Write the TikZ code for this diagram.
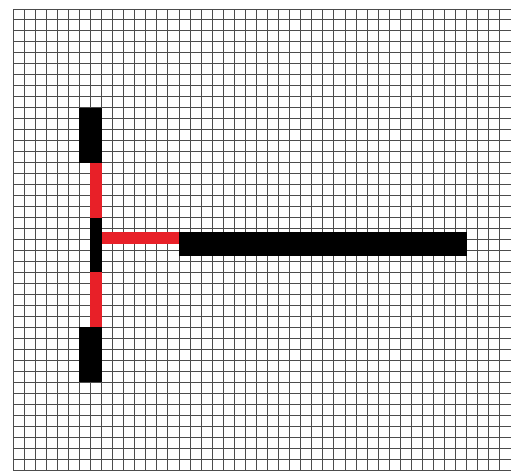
\documentclass[tikz,border=0pt]{standalone}
\usepackage{xcolor}
\usepackage{tikz}

\definecolor{tred}{RGB}{232,32,40}
\tikzset{gridline/.style={black!70,line width=0.5pt}}

\begin{document}
\begin{tikzpicture}[x=5.533pt,y=-5.488pt,line width=0.5pt]
    \useasboundingbox (-1.175,-0.82) rectangle (45,42);
    \foreach \i in {0,...,45}
      \draw[gridline] (\i,0) -- (\i,42);
    \foreach \j in {0,...,42}
      \draw[gridline] (0,\j) -- (45,\j);
    % ends of the bar
    \fill[black] (6,9) rectangle (8,14);
    \fill[black] (6,29) rectangle (8,34);
    % red parts
    \fill[tred] (7,14) rectangle (8,19);
    \fill[tred] (7,24) rectangle (8,29);
    \fill[tred] (8,20.3) rectangle (15,21.4);
    % stem and long arm
    \fill[black] (7,19) rectangle (8,24);
    \fill[black] (15,20.3) rectangle (41,22.5);
  \end{tikzpicture}
\end{document}
